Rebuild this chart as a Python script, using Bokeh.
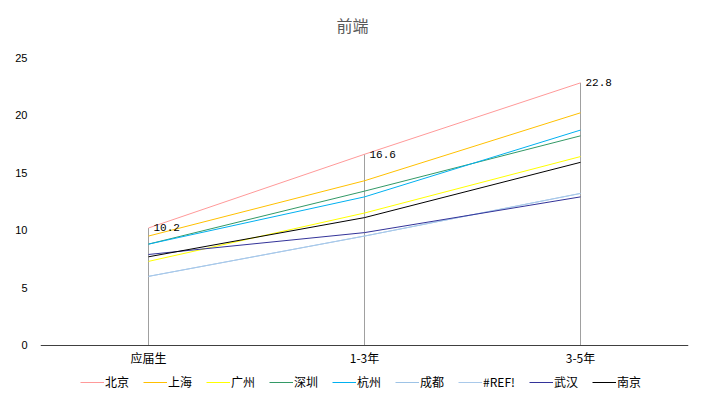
from bokeh.plotting import figure
from bokeh.models import Range1d, Legend, LegendItem, FixedTicker, ColumnDataSource, LinearAxis, Label
from bokeh.core.properties import value
from bokeh.embed import file_html
from bokeh.resources import INLINE

title_text = "前端"
categories = ["应届生", "1-3年", "3-5年"]
series_names = ["北京", "上海", "广州", "深圳", "杭州", "成都", "#REF!", "武汉", "南京"]
beijing = [10.2, 16.6, 22.8]
shanghai = [9.5, 14.3, 20.2]
guangzhou = [7.3, 11.5, 16.4]
shenzhen = [8.8, 13.4, 18.2]
hangzhou = [8.8, 12.9, 18.7]
chengdu = [6.0, 9.5, 13.2]
ref_err = [6.0, 9.5, 13.2]
wuhan = [7.9, 9.8, 12.9]
nanjing = [7.7, 11.1, 15.9]
y_ticks = [0, 5, 10, 15, 20, 25]

series_values = [beijing, shanghai, guangzhou, shenzhen, hangzhou, chengdu, ref_err, wuhan, nanjing]
colors = ["#FF9999", "#FFC000", "#FFFF00", "#339966", "#00B0F0", "#9DC3E6", "#A9C9EA", "#333399", "#000000"]

xs = list(range(len(categories)))
CJK = "Noto Sans CJK SC"

# frame spans the full height; value axis 0..25 occupies the middle band
p = figure(frame_width=648, frame_height=396, output_backend="svg", toolbar_location=None,
           x_range=Range1d(-0.5, len(categories) - 0.5), y_range=Range1d(-4.43, 29.95),
           min_border_left=40, min_border_right=16, min_border_top=0, min_border_bottom=0,
           x_axis_location=None)
p.outline_line_color = None
p.xgrid.visible = False
p.ygrid.visible = False

# drop lines from the highest series to the axis
p.segment(x0=xs, y0=[0] * len(xs), x1=xs, y1=beijing, line_color="#A0A0A0", line_width=1)

items = []
for name, vals, col in zip(series_names, series_values, colors):
    r = p.line(xs, vals, line_color=col, line_width=1)
    items.append(LegendItem(label=name, renderers=[r]))

# data labels for 北京
src = ColumnDataSource(dict(x=xs, y=beijing, t=[f"{v:.1f}" for v in beijing]))
p.text(x="x", y="y", text="t", source=src, x_offset=5, text_baseline="middle", text_align="left",
       text_font=value("Liberation Mono"), text_font_size="11px", text_color="#000000")

# category axis fixed at value 0
xaxis = LinearAxis(fixed_location=0, ticker=FixedTicker(ticks=xs))
xaxis.major_label_overrides = {i: c for i, c in enumerate(categories)}
xaxis.major_tick_line_color = None
xaxis.major_tick_out = 0
xaxis.major_tick_in = 0
xaxis.minor_tick_line_color = None
xaxis.axis_line_color = "#404040"
xaxis.major_label_standoff = 4
xaxis.major_label_text_font = CJK
xaxis.major_label_text_font_size = "12px"
xaxis.major_label_text_color = "#000000"
p.add_layout(xaxis, "below")

p.yaxis.ticker = FixedTicker(ticks=y_ticks)
p.yaxis.axis_line_color = None
p.yaxis.major_tick_line_color = None
p.yaxis.minor_tick_line_color = None
p.yaxis.major_tick_out = 0
p.yaxis.major_tick_in = 0
p.yaxis.minor_tick_out = 0
p.yaxis.minor_tick_in = 0
p.yaxis.major_label_standoff = 13
p.yaxis.major_label_text_font = "Liberation Sans"
p.yaxis.major_label_text_font_size = "11px"
p.yaxis.major_label_text_color = "#000000"

title = Label(x=0.944, y=27.78, text=title_text, text_align="center", text_baseline="middle",
              text_font=CJK, text_font_size="16px", text_color="#595959")
p.add_layout(title)

legend = Legend(items=items, orientation="horizontal", location=(40, 6),
                glyph_width=24, glyph_height=10, label_standoff=1, spacing=14,
                padding=0, margin=0, border_line_color=None, background_fill_alpha=0,
                label_text_font=CJK, label_text_font_size="12px", label_text_color="#000000")
p.add_layout(legend)

open("out.html", "w").write(file_html(p, INLINE))
